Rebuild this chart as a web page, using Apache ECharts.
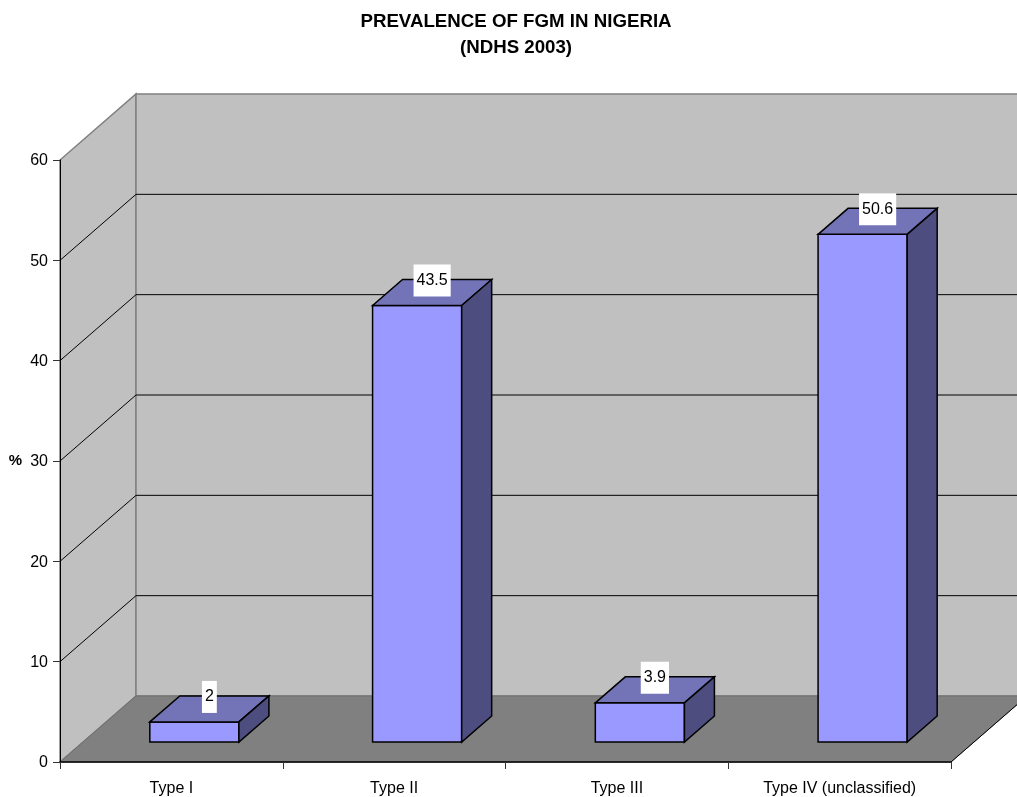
<!DOCTYPE html>
<html>
<head>
<meta charset="utf-8">
<title>Prevalence of FGM in Nigeria</title>
<style>
  html, body { margin: 0; padding: 0; background: #fff; }
  #chart { width: 1017px; height: 797px; }
</style>
<script src="https://cdn.jsdelivr.net/npm/echarts@6/dist/echarts.min.js"></script>
</head>
<body>
<div id="chart"></div>
<script>
const categories = ['Type I', 'Type II', 'Type III', 'Type IV (unclassified)'];
const prevalence = [2, 43.5, 3.9, 50.6];
const gridValues = [10, 20, 30, 40, 50];

const FONT = '"Liberation Sans", Arial, sans-serif';
// 伪3D偏移（像素）
const WALL_DX = 76, WALL_DY = -66;
const BAR_DX = 23, BAR_DY = -20;
const DEPTH_DX = 30, DEPTH_DY = -26;

function poly(points, fill, stroke, width) {
  return {
    type: 'polygon',
    shape: { points: points },
    style: { fill: fill, stroke: stroke, lineWidth: width || 1 }
  };
}

// 背景墙和地板
function renderWalls(params, api) {
  const cs = params.coordSys;
  const x0 = cs.x, x1 = cs.x + cs.width;
  const y0 = api.coord([0, 0])[1], y60 = api.coord([0, 60])[1];
  const dx = WALL_DX, dy = WALL_DY;
  return {
    type: 'group',
    children: [
      poly([[x0, y0], [x0 + dx, y0 + dy], [x0 + dx, y60 + dy], [x0, y60]], '#c0c0c0', '#808080', 1.5),
      poly([[x0 + dx, y0 + dy], [x1 + dx, y0 + dy], [x1 + dx, y60 + dy], [x0 + dx, y60 + dy]], '#c0c0c0', '#808080', 1.5),
      poly([[x0, y0], [x1, y0], [x1 + dx, y0 + dy], [x0 + dx, y0 + dy]], '#808080', '#6e6e6e', 1),
      { type: 'line', shape: { x1: x1, y1: y0, x2: x1 + dx, y2: y0 + dy }, style: { stroke: '#000', lineWidth: 1 } }
    ]
  };
}

// 网格线：左墙斜线 + 后墙水平线
function renderGridLine(params, api) {
  const cs = params.coordSys;
  const y = api.coord([0, api.value(0)])[1];
  const x0 = cs.x, x1 = cs.x + cs.width;
  return {
    type: 'polyline',
    shape: { points: [[x0, y], [x0 + WALL_DX, y + WALL_DY], [x1 + WALL_DX, y + WALL_DY]] },
    style: { fill: null, stroke: '#000', lineWidth: 1 }
  };
}

function renderBar(params, api) {
  const idx = api.value(0);
  const val = api.value(1);
  const top = api.coord([idx, val]);
  const base = api.coord([idx, 0]);
  const w = api.size([1, 0])[0] * 0.4;
  const l = top[0] + BAR_DX - w / 2;
  const r = l + w;
  const t = top[1] + BAR_DY;
  const b = base[1] + BAR_DY;
  const dx = DEPTH_DX, dy = DEPTH_DY;
  return {
    type: 'group',
    children: [
      poly([[l, t], [r, t], [r, b], [l, b]], '#9999ff', '#000', 1.5),
      poly([[l, t], [l + dx, t + dy], [r + dx, t + dy], [r, t]], '#7373b8', '#000', 1.5),
      poly([[r, t], [r + dx, t + dy], [r + dx, b + dy], [r, b]], '#4d4d80', '#000', 1.5),
      {
        type: 'text',
        z2: 10,
        style: {
          text: String(val),
          x: (l + r) / 2 + dx / 2,
          y: t + dy + 1,
          align: 'center',
          verticalAlign: 'middle',
          fill: '#000',
          font: '16px ' + FONT,
          backgroundColor: '#fff',
          padding: [8, 3, 8, 3]
        }
      }
    ]
  };
}

const chart = echarts.init(document.getElementById('chart'), null, { renderer: 'canvas' });
chart.setOption({
  animation: false,
  backgroundColor: '#fff',
  title: {
    text: 'PREVALENCE OF FGM IN NIGERIA\n(NDHS 2003)',
    left: 511,
    top: 4,
    textAlign: 'center',
    textStyle: { fontFamily: FONT, fontSize: 18.7, fontWeight: 'bold', color: '#000', lineHeight: 26 }
  },
  grid: { left: 60, right: 66, top: 160, bottom: 35, outerBoundsMode: 'none' },
  xAxis: {
    type: 'category',
    data: categories,
    z: 5,
    axisLine: { lineStyle: { color: '#000', width: 1.5 } },
    axisTick: { show: true, length: 7, lineStyle: { color: '#333' } },
    axisLabel: { color: '#000', fontFamily: FONT, fontSize: 16, margin: 19 },
    splitLine: { show: false }
  },
  yAxis: {
    type: 'value',
    min: 0,
    max: 60,
    interval: 10,
    z: 5,
    name: '%',
    nameLocation: 'middle',
    nameRotate: 0,
    nameGap: 38,
    nameTextStyle: { color: '#000', fontFamily: FONT, fontSize: 15, fontWeight: 'bold', padding: [3, 0, 0, 0] },
    axisLine: { show: true, lineStyle: { color: '#000', width: 1 } },
    axisTick: { show: true, length: 7, lineStyle: { color: '#333' } },
    axisLabel: { color: '#000', fontFamily: FONT, fontSize: 16, margin: 12, verticalAlign: 'top', lineHeight: 2 },
    splitLine: { show: false }
  },
  series: [
    { type: 'custom', z: 1, silent: true, renderItem: renderWalls, data: [[0]], encode: { x: -1, y: -1 } },
    { type: 'custom', z: 2, silent: true, renderItem: renderGridLine, data: gridValues.map(v => [v]), encode: { x: -1, y: -1 } },
    { type: 'custom', z: 3, silent: true, renderItem: renderBar, data: prevalence.map((v, i) => [i, v]), encode: { x: 0, y: 1 } }
  ]
});
</script>
</body>
</html>
